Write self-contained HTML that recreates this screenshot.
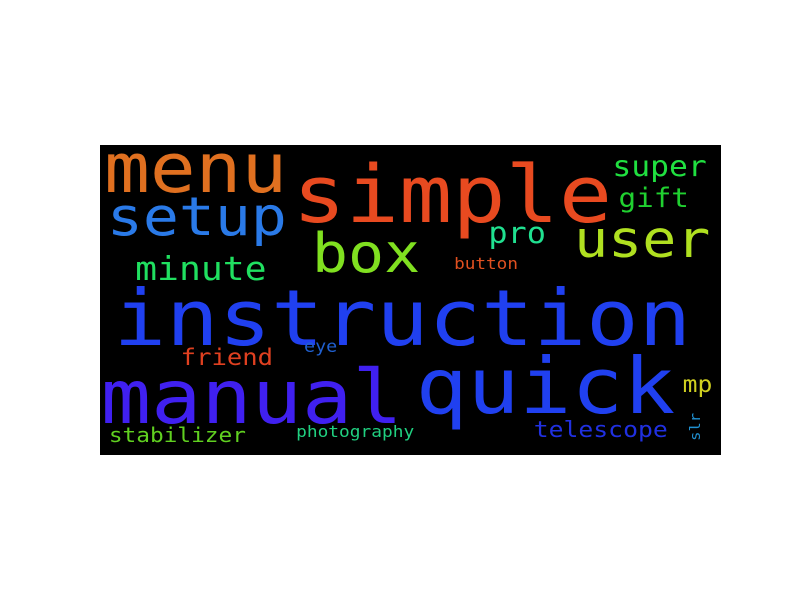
<!DOCTYPE html>
<html><head><meta charset="utf-8"><style>
html,body{margin:0;padding:0;background:#fff;width:800px;height:600px;overflow:hidden}
svg text{font-family:"DejaVu Sans Mono","Liberation Mono",monospace}
</style></head><body>
<svg id="chart" width="800" height="600" xmlns="http://www.w3.org/2000/svg">
<rect x="100" y="145" width="621" height="310" fill="#000"/>
<g id="words"></g>
</svg>
<script>
const words=["menu","simple","setup","box","minute","instruction","super","gift","user","pro","button","friend","eye","manual","quick","mp","telescope","slr","stabilizer","photography"];
const sizes=[78,90,61,62,37,88,32,30,58,33,18,26,19,85,88,26,25,16,23,18];
const colors=["#e07020","#e84a20","#2a7ae8","#80e020","#20e060","#2040f0","#20e040","#20d030","#b0e020","#20e090","#e05020","#e04020","#2060d0","#4020f0","#2040f0","#d0d020","#2030e0","#2090d0","#60d020","#20d080"];
const layout=[[108,192,0],[297,222,0],[110,235,0],[315,272,0],[137,280,0],[118,345,0],[614,176,0],[620,207,0],[577,257,0],[490,243,0],[455,269,0],[182,365,0],[305,352,0],[105,423,0],[420,413,0],[684,392,0],[535,437,0],[700,440,-90],[110,442,0],[297,437,0]];
const g=document.getElementById('words');
words.forEach((w,i)=>{
  const fs=sizes[i];
  const t=document.createElementNS('http://www.w3.org/2000/svg','text');
  const [vx,vy,rot]=layout[i];
  const x=vx-0.05*fs;
  t.setAttribute('x',x);
  t.setAttribute('y',vy);
  t.setAttribute('font-size',(fs*0.88).toFixed(1));
  t.setAttribute('fill',colors[i]);
  t.setAttribute('textLength',(w.length*0.602*fs-0.06*fs).toFixed(1));
  t.setAttribute('lengthAdjust','spacingAndGlyphs');
  if(rot) t.setAttribute('transform','rotate('+rot+' '+vx+' '+vy+')');
  
  
  t.textContent=w;
  g.appendChild(t);
});
</script>
</body></html>
